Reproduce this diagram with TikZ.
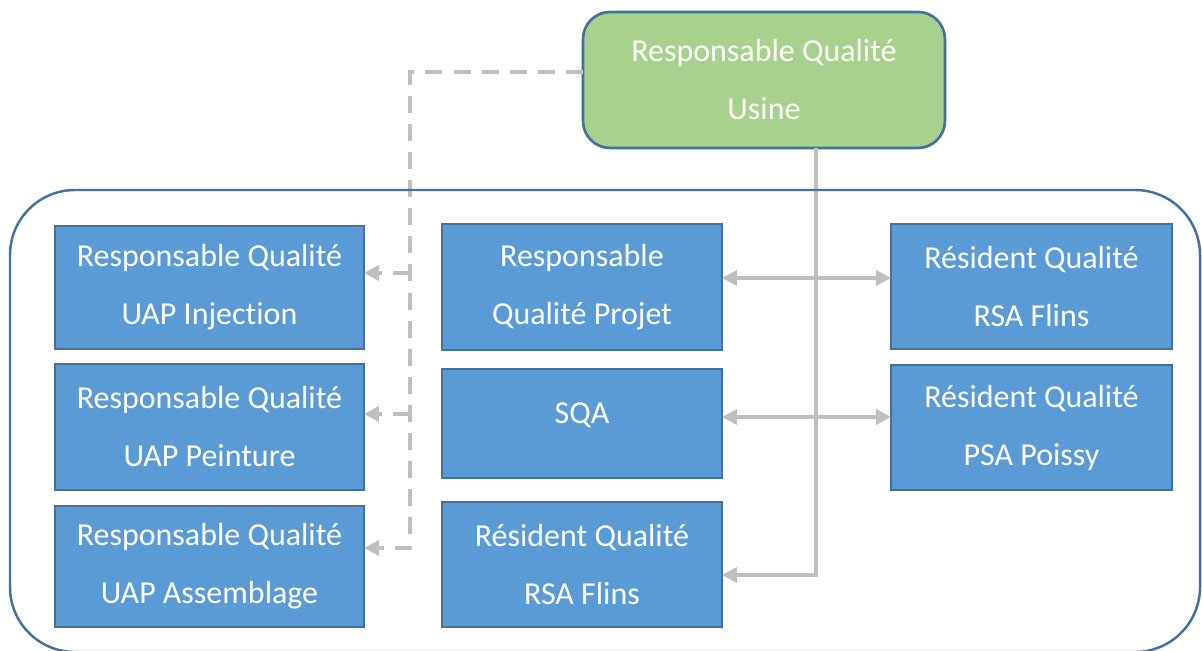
\documentclass[tikz,border=0pt]{standalone}
\usepackage{fontspec}
\setmainfont[Ligatures={NoCommon,NoContextual},Contextuals=NoAlternate]{Carlito}
\usetikzlibrary{arrows.meta,calc}

\definecolor{boxblue}{HTML}{5B9BD5}
\definecolor{edgeblue}{HTML}{41719C}
\definecolor{headgreen}{HTML}{A9D18E}
\definecolor{linkgray}{HTML}{BFBFBF}

\tikzset{
  unit/.style={draw=edgeblue, line width=1.1pt, fill=boxblue, text=white,
    inner sep=0pt, outer sep=0pt, anchor=north west, align=center,
    font=\fontsize{18.2}{33}\selectfont},
  head/.style={unit, fill=headgreen, line width=1.5pt, rounded corners=0.54cm},
  frame/.style={draw=edgeblue, line width=1.4pt, rounded corners=1.3cm},
  link/.style={draw=linkgray, line width=2.3pt,
    -{Triangle[length=8.5pt,width=8.5pt]}},
  dualink/.style={link, {Triangle[length=8.5pt,width=8.5pt]}-{Triangle[length=8.5pt,width=8.5pt]}},
  dashlink/.style={link, dash pattern=on 9.7pt off 6.3pt}
}

\begin{document}
\begin{tikzpicture}[x=0.02cm, y=-0.02cm]
\useasboundingbox (0,0) rectangle (1202,651);

% head of the plant
\node[head, minimum width=7.24cm, minimum height=2.72cm] (g) at (583,12)
  {Responsable Qualité\\Usine};

% left column: UAP quality managers
\node[unit, minimum width=6.18cm, minimum height=2.46cm] (l1) at (55,226)
  {Responsable Qualité\\UAP Injec\kern0pt tion};
\node[unit, minimum width=6.18cm, minimum height=2.52cm] (l2) at (55,364)
  {Responsable Qualité\\UAP Peinture};
\node[unit, minimum width=6.18cm, minimum height=2.42cm] (l3) at (55,506)
  {Responsable Qualité\\UAP Assemblage};

% middle column
\node[unit, minimum width=5.6cm, minimum height=2.52cm] (m1) at (442,224)
  {Responsable\\Qualité Projet};
\node[unit, minimum width=5.6cm, minimum height=2.18cm, text depth=12pt] (m2) at (442,369)
  {SQA};
\node[unit, minimum width=5.6cm, minimum height=2.5cm] (m3) at (442,502)
  {Résident Qualité\\RSA Flins};

% right column: residents at customer plants
\node[unit, minimum width=5.62cm, minimum height=2.5cm] (r1) at (891,224)
  {Résident Qualité\\RSA Flins};
\node[unit, minimum width=5.62cm, minimum height=2.5cm] (r2) at (891,365)
  {Résident Qualité\\PSA Poissy};

% functional (dashed) links to the UAP managers
\coordinate (dj) at (410,72);
\coordinate (d1) at (410,273);
\coordinate (d2) at (410,414);
\coordinate (d3) at (410,548);
\draw[dashlink] (g.west |- dj) -- (dj) -- (d3) -- (l3.east |- d3);
\draw[dashlink] (d1) -- (l1.east |- d1);
\draw[dashlink] (d2) -- (l2.east |- d2);

% hierarchical link and exchanges with the residents
\coordinate (sj) at (816,575);
\coordinate (h1) at (0,278);
\coordinate (h2) at (0,417);
\draw[link] (g.south -| sj) -- (sj) -- (m3.east |- sj);
\draw[dualink] (m1.east |- h1) -- (r1.west |- h1);
\draw[dualink] (m2.east |- h2) -- (r2.west |- h2);

% surrounding frame
\draw[frame] (10,190) rectangle (1200,652);
\end{tikzpicture}
\end{document}
